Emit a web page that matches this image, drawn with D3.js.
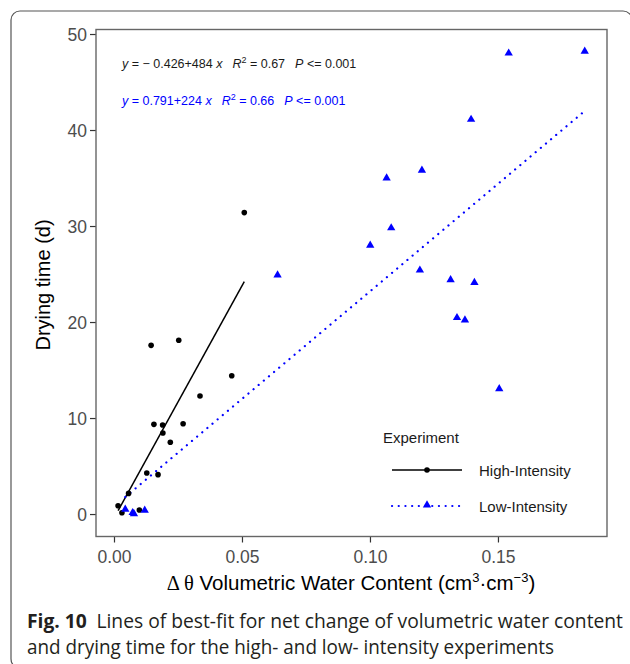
<!DOCTYPE html>
<html>
<head>
<meta charset="utf-8">
<script src="https://cdn.jsdelivr.net/npm/d3@7"></script>
<style>
  body { margin: 0; background: #fff; }
  svg { display: block; }
</style>
</head>
<body>
<div id="chart"></div>
<script>
// High-intensity experiment (black circles)
const highX = [0.0016, 0.0031, 0.0057, 0.0099, 0.0128, 0.0172, 0.0156, 0.019, 0.0191, 0.022, 0.027, 0.0336, 0.046, 0.0145, 0.0253, 0.0509];
const highY = [0.86, 0.14, 2.15, 0.42, 4.27, 4.1, 9.34, 9.27, 8.44, 7.47, 9.4, 12.3, 14.4, 17.57, 18.1, 31.4];
// Low-intensity experiment (blue triangles)
const lowX = [0.0044, 0.0073, 0.0078, 0.012, 0.0639, 0.1001, 0.1065, 0.1083, 0.1195, 0.1203, 0.1315, 0.134, 0.1371, 0.1395, 0.1408, 0.1505, 0.1542, 0.1839];
const lowY = [0.49, 0.14, 0.02, 0.38, 24.9, 28.0, 35.0, 29.8, 25.4, 35.8, 24.4, 20.45, 20.2, 41.1, 24.1, 13.05, 48.0, 48.2];
// fitted lines: intercept, slope
const highFit = [-0.426, 484];
const lowFit = [0.791, 224];
const fitLabels = [
    { a: "\u2212 0.426", b: "484", r2: "0.67", p: "0.001" },
    { a: "0.791", b: "224", r2: "0.66", p: "0.001" }
];
const xTicks = [0, 0.05, 0.10, 0.15];
const yTicks = [0, 10, 20, 30, 40, 50];
const seriesNames = ["High-Intensity", "Low-Intensity"];

const W = 630, H = 664;
const margin = { top: 29.5, right: 23, bottom: 127.5, left: 96 };
const width = W - margin.left - margin.right;
const height = H - margin.top - margin.bottom;

const svg = d3.select("#chart").append("svg")
    .attr("width", W)
    .attr("height", H);

// outer figure frame
svg.append("rect")
    .attr("x", 11).attr("y", 11)
    .attr("width", 621).attr("height", 657)
    .attr("rx", 9)
    .attr("fill", "none")
    .attr("stroke", "#555")
    .attr("stroke-width", 1.2);

const g = svg.append("g")
    .attr("transform", "translate(" + margin.left + "," + margin.top + ")");

const x = d3.scaleLinear().domain([-0.00703, 0.1926]).range([0, width]);
const y = d3.scaleLinear().domain([-2.34, 50.47]).range([height, 0]);

// axes
const xAxis = d3.axisBottom(x).tickValues(xTicks).tickFormat(d3.format(".2f")).tickSize(6).tickPadding(4);
const yAxis = d3.axisLeft(y).tickValues(yTicks).tickFormat(d3.format("d")).tickSize(6).tickPadding(3);

const xg = g.append("g").attr("transform", "translate(0," + height + ")").call(xAxis);
const yg = g.append("g").call(yAxis);
[xg, yg].forEach(a => {
    a.select(".domain").remove();
    a.selectAll(".tick line").attr("stroke", "#333").attr("stroke-width", 1.2);
    a.selectAll(".tick text")
        .attr("fill", "#4d4d4d")
        .style("font-family", "Liberation Sans, Arial, sans-serif")
        .style("font-size", "17.5px");
});
xg.selectAll(".tick text").attr("dy", "0.95em");
yg.selectAll(".tick text").attr("dy", "0.36em");

// panel border
g.append("rect")
    .attr("width", width).attr("height", height)
    .attr("fill", "none")
    .attr("stroke", "#666")
    .attr("stroke-width", 1.4);

// fit lines
const highLine = [d3.min(highX), d3.max(highX)].map(v => [v, highFit[0] + highFit[1] * v]);
const lowLine = [d3.min(lowX), d3.max(lowX)].map(v => [v, lowFit[0] + lowFit[1] * v]);
const line = d3.line().x(d => x(d[0])).y(d => y(d[1]));

g.append("path").datum(highLine)
    .attr("d", line)
    .attr("fill", "none")
    .attr("stroke", "#000")
    .attr("stroke-width", 1.5);

g.append("path").datum(lowLine)
    .attr("d", line)
    .attr("fill", "none")
    .attr("stroke", "#0000ff")
    .attr("stroke-width", 2.2)
    .attr("stroke-linecap", "round")
    .attr("stroke-dasharray", "0.1 6.6");

// points
const highData = highX.map((v, i) => ({ x: v, y: highY[i] }));
const lowData = lowX.map((v, i) => ({ x: v, y: lowY[i] }));

g.selectAll(".high").data(highData).enter().append("circle")
    .attr("class", "high")
    .attr("cx", d => x(d.x))
    .attr("cy", d => y(d.y))
    .attr("r", 2.8)
    .attr("fill", "#000");

const tri = d3.symbol().type(d3.symbolTriangle).size(30);
g.selectAll(".low").data(lowData).enter().append("path")
    .attr("class", "low")
    .attr("d", tri)
    .attr("transform", d => "translate(" + x(d.x) + "," + y(d.y) + ")")
    .attr("fill", "#0000ff");

// equation labels
const eqColors = ["#1a1a1a", "#0000ff"];
fitLabels.forEach((f, i) => {
    const t = g.append("text")
        .attr("x", 26)
        .attr("y", 38.5 + i * 37)
        .attr("fill", eqColors[i])
        .style("font-family", "Liberation Sans, Arial, sans-serif")
        .style("font-size", "12.5px");
    t.append("tspan").attr("font-style", "italic").text("y");
    t.append("tspan").text(" = " + f.a + "+" + f.b + " ");
    t.append("tspan").attr("font-style", "italic").text("x");
    t.append("tspan").attr("dx", 10).attr("font-style", "italic").text("R");
    t.append("tspan").attr("dy", -5).style("font-size", "9px").text("2");
    t.append("tspan").attr("dy", 5).text(" = " + f.r2);
    t.append("tspan").attr("dx", 10).attr("font-style", "italic").text("P");
    t.append("tspan").text(" <= " + f.p);
});

// legend
const leg = g.append("g").attr("transform", "translate(" + (383 - margin.left) + "," + (443 - margin.top) + ")");
leg.append("text")
    .text("Experiment")
    .style("font-family", "Liberation Sans, Arial, sans-serif")
    .style("font-size", "15px")
    .attr("fill", "#1a1a1a");

seriesNames.forEach((name, i) => {
    const row = leg.append("g").attr("transform", "translate(0," + (27 + i * 36) + ")");
    const ln = row.append("line")
        .attr("x1", 9).attr("x2", 79)
        .attr("y1", 0).attr("y2", 0);
    if (i === 0) {
        ln.attr("stroke", "#000").attr("stroke-width", 1.6);
        row.append("circle").attr("cx", 44).attr("cy", 0).attr("r", 2.8).attr("fill", "#000");
    } else {
        ln.attr("stroke", "#0000ff").attr("stroke-width", 2.2)
            .attr("stroke-linecap", "round").attr("stroke-dasharray", "0.1 6.6");
        row.append("path").attr("d", tri).attr("transform", "translate(44,-1)").attr("fill", "#0000ff");
    }
    row.append("text")
        .attr("x", 96)
        .attr("y", 5.5)
        .text(name)
        .style("font-family", "Liberation Sans, Arial, sans-serif")
        .style("font-size", "15px")
        .attr("fill", "#1a1a1a");
});

// axis titles
const xt = svg.append("text")
    .attr("x", 351)
    .attr("y", 590)
    .attr("text-anchor", "middle")
    .attr("fill", "#000")
    .style("font-family", "Liberation Sans, Arial, sans-serif")
    .style("font-size", "20.5px");
xt.append("tspan").style("font-family", "Liberation Serif, serif").text("\u0394 \u03b8");
xt.append("tspan").text(" Volumetric Water Content (cm");
xt.append("tspan").attr("dy", -8).style("font-size", "13px").text("3");
xt.append("tspan").attr("dy", 8).text("\u00b7cm");
xt.append("tspan").attr("dy", -8).style("font-size", "13px").text("\u22123");
xt.append("tspan").attr("dy", 8).text(")");

svg.append("text")
    .attr("transform", "translate(50,285) rotate(-90)")
    .attr("text-anchor", "middle")
    .attr("fill", "#000")
    .style("font-family", "Liberation Sans, Arial, sans-serif")
    .style("font-size", "20px")
    .text("Drying time (d)");

// caption
const cap1 = svg.append("text")
    .attr("x", 27)
    .attr("y", 628)
    .attr("fill", "#231f20")
    .attr("textLength", 596)
    .attr("lengthAdjust", "spacingAndGlyphs")
    .style("font-family", "Open Sans, Noto Sans, sans-serif")
    .style("font-size", "20px");
cap1.append("tspan").attr("font-weight", "bold").text("Fig. 10");
cap1.append("tspan").text("\u2002Lines of best-fit for net change of volumetric water content");

svg.append("text")
    .attr("x", 27)
    .attr("y", 654)
    .attr("fill", "#231f20")
    .attr("textLength", 527)
    .attr("lengthAdjust", "spacingAndGlyphs")
    .style("font-family", "Open Sans, Noto Sans, sans-serif")
    .style("font-size", "20px")
    .text("and drying time for the high- and low- intensity experiments");
</script>
</body>
</html>
